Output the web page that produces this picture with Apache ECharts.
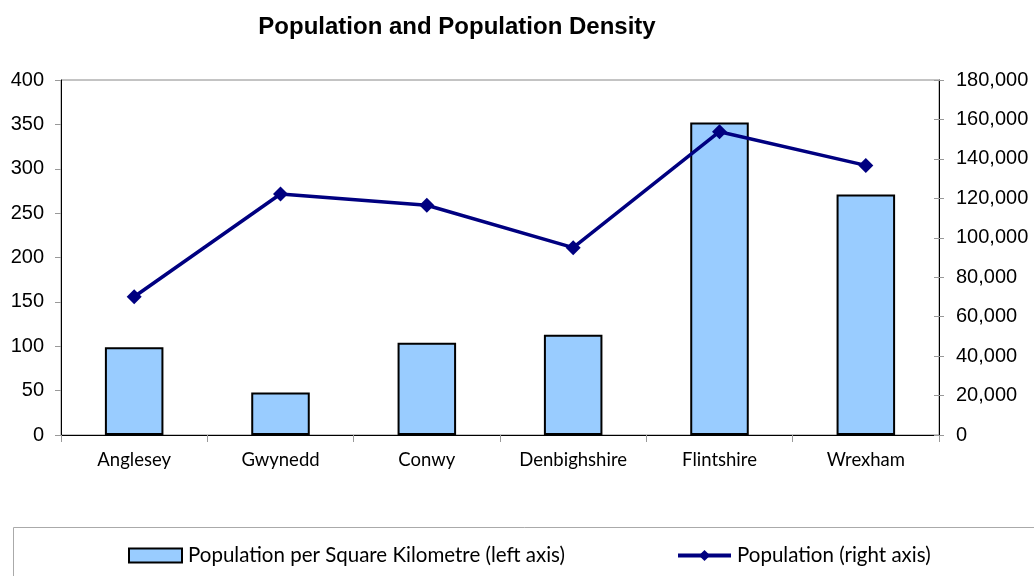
<!DOCTYPE html>
<html>
<head>
<meta charset="utf-8">
<script src="https://cdn.jsdelivr.net/npm/echarts@6/dist/echarts.min.js"></script>
<style>
  html, body { margin: 0; padding: 0; background: #fff; }
  #chart { width: 1034px; height: 576px; }
</style>
</head>
<body>
<div id="chart"></div>
<script>
// data
var areas = ['Anglesey', 'Gwynedd', 'Conwy', 'Denbighshire', 'Flintshire', 'Wrexham'];
var density = [99, 48, 104, 113, 352, 271];
var population = [70100, 122200, 116500, 95000, 153800, 136700];

var axisFont = 'Liberation Sans, Arial, sans-serif';
var labelFont = 'Lato, sans-serif';

var myChart = echarts.init(document.getElementById('chart'));
myChart.setOption({
  animation: false,
  title: {
    text: 'Population and Population Density',
    left: 452,
    textAlign: 'center',
    top: 10,
    textStyle: { fontFamily: axisFont, fontWeight: 'bold', fontSize: 24, color: '#000' }
  },
  grid: {
    left: 61, right: 95, top: 80, bottom: 141,
    show: true, borderColor: '#888', borderWidth: 1, backgroundColor: '#fff'
  },
  legend: {
    left: 123,
    top: 540,
    itemWidth: 53,
    itemHeight: 14,
    itemGap: 111,
    textStyle: { fontFamily: labelFont, fontSize: 20.5, color: '#000', padding: [0, 0, 0, 1] },
    data: [
      { name: 'Population per Square Kilometre (left axis)', icon: 'rect' },
      { name: 'Population (right axis)', lineStyle: { width: 4 } }
    ]
  },
  graphic: [{
    type: 'rect',
    shape: { x: 13.5, y: 527.5, width: 1030, height: 60 },
    style: { fill: 'none', stroke: '#aaa', lineWidth: 1 },
    silent: true
  }],
  xAxis: {
    type: 'category',
    data: areas,
    axisLine: { lineStyle: { color: '#000', width: 1 } },
    axisTick: { show: true, length: 7, lineStyle: { color: '#999' } },
    axisLabel: { fontFamily: labelFont, fontSize: 18.5, color: '#000', margin: 16 }
  },
  yAxis: [{
    type: 'value', min: 0, max: 400, interval: 50, position: 'left',
    splitLine: { show: false },
    axisLine: { show: true, lineStyle: { color: '#000', width: 1 } },
    axisTick: { show: true, length: 6, lineStyle: { color: '#999' } },
    axisLabel: { fontFamily: axisFont, fontSize: 20, color: '#000', margin: 17 }
  }, {
    type: 'value', min: 0, max: 180000, interval: 20000, position: 'right',
    splitLine: { show: false },
    axisLine: { show: true, lineStyle: { color: '#000', width: 1 } },
    axisTick: { show: true, length: 5, lineStyle: { color: '#999' } },
    axisLabel: {
      fontFamily: axisFont, fontSize: 20, color: '#000', margin: 17,
      formatter: function (v) { return v.toLocaleString('en-US'); }
    }
  }, {
    // inner half of the crossing ticks on the right axis
    type: 'value', min: 0, max: 180000, interval: 20000, position: 'right',
    splitLine: { show: false },
    axisLine: { show: false },
    axisTick: { show: true, inside: true, length: 5, lineStyle: { color: '#999' } },
    axisLabel: { show: false }
  }],
  series: [{
    name: 'Population per Square Kilometre (left axis)',
    type: 'bar',
    yAxisIndex: 0,
    barWidth: '40%',
    itemStyle: { color: '#99ccff', borderColor: '#000', borderWidth: 2 },
    data: density
  }, {
    name: 'Population (right axis)',
    type: 'line',
    yAxisIndex: 1,
    symbol: 'diamond',
    symbolSize: 15,
    lineStyle: { color: '#000080', width: 3.5 },
    itemStyle: { color: '#000080' },
    data: population
  }]
});
</script>
</body>
</html>
